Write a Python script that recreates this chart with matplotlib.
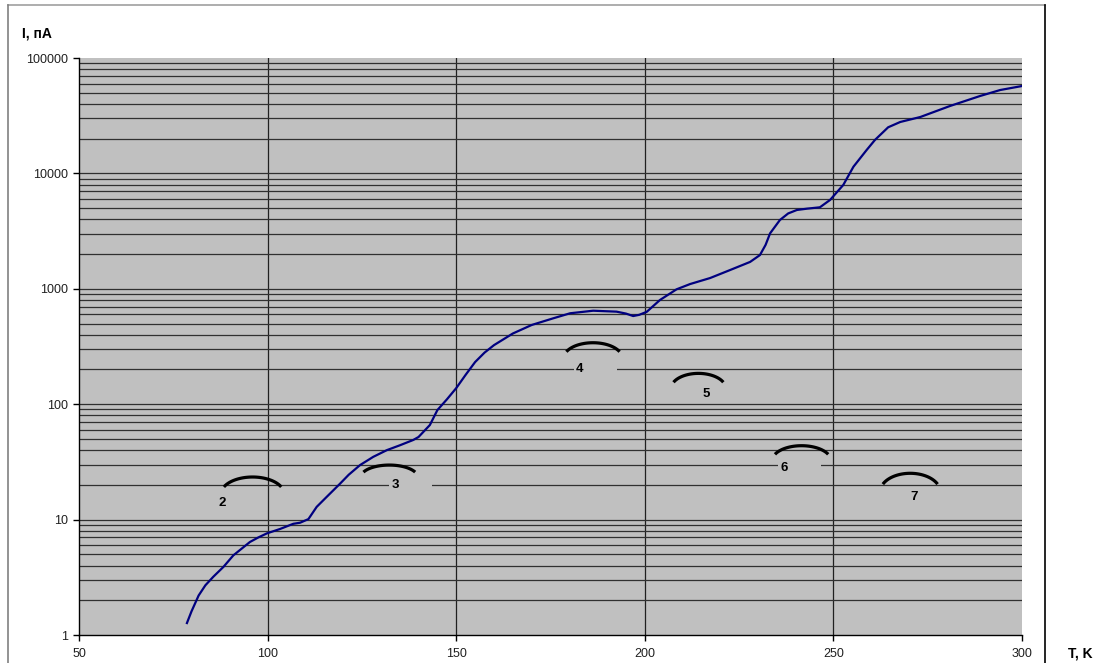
import numpy as np
import matplotlib
matplotlib.use('Agg')
import matplotlib.pyplot as plt
from matplotlib import ticker
from matplotlib.patches import Rectangle
from matplotlib.lines import Line2D

plt.rcParams['font.family'] = ['Liberation Sans', 'DejaVu Sans']

# температура (K) и ток (пА)
temp_k = [78.6, 79.8, 81.7, 83.5, 85.6, 88.3, 90.9, 93.1, 95.3, 97.5, 99.8,
          103.3, 106.8, 108.6, 110.8, 113.0, 115.7, 119.2, 121.5, 124.5,
          128.0, 131.6, 135.0, 138.6, 140.0, 143.0, 145.0, 147.5, 150.0,
          152.5, 155.0, 157.5, 160.0, 165.0, 170.0, 175.7, 180.2, 186.3,
          192.5, 195.0, 196.9, 198.5, 200.5, 204.0, 208.4, 212.0, 217.3,
          222.6, 227.9, 230.5, 232.0, 233.2, 235.8, 238.0, 240.3, 243.0,
          246.4, 249.1, 252.6, 255.3, 258.8, 261.0, 264.5, 267.7, 273.0,
          280.9, 288.9, 294.2, 300.0]
current_pa = [1.27, 1.6, 2.2, 2.7, 3.2, 3.9, 4.9, 5.6, 6.4, 7.0, 7.6,
              8.3, 9.2, 9.4, 10.1, 12.9, 15.8, 20.5, 24.5, 29.7,
              35.0, 40.0, 44.0, 49.0, 52.0, 66.0, 89.0, 110.0, 138.0,
              180.0, 232.0, 280.0, 325.0, 410.0, 486.0, 555.0, 614.0, 646.0,
              634.0, 610.0, 581.0, 595.0, 632.0, 800.0, 990.0, 1100.0, 1240.0,
              1455.0, 1710.0, 1960.0, 2400.0, 3025.0, 3945.0, 4500.0, 4820.0, 4950.0,
              5085.0, 5890.0, 7940.0, 11430.0, 15960.0, 19500.0, 25100.0, 27900.0, 30800.0,
              38400.0, 46900.0, 52800.0, 57200.0]

# дуги: левый и правый край (K), ток на концах и в вершине (пА)
arc_left = [88.4, 125.4, 179.2, 207.6, 234.5, 263.1]
arc_right = [103.6, 139.1, 193.3, 220.8, 248.6, 277.6]
arc_end = [19.2, 25.8, 285.0, 155.0, 36.8, 20.3]
arc_peak = [23.4, 29.7, 341.0, 185.0, 43.7, 25.2]

# подписи дуг
label_text = ['2', '3', '4', '5', '6', '7']
label_t = [87.9, 133.8, 182.8, 216.4, 236.9, 271.4]
label_i = [13.9, 20.0, 200.0, 122.0, 28.2, 15.8]

bg = '#c0c0c0'
fig = plt.figure(figsize=(11.01, 6.63), dpi=100)
ax = fig.add_axes([0.0718, 0.0422, 0.8565, 0.8703])
ax.set_facecolor(bg)

ax.plot(temp_k, current_pa, color='#000080', lw=1.6, zorder=3)

# дуги рисуем как эллиптические сегменты
th = np.linspace(np.radians(25), np.radians(155), 60)
for xl, xr, ye, yp in zip(arc_left, arc_right, arc_end, arc_peak):
    xc = (xl + xr) / 2
    a = (xr - xl) / 2 / np.cos(np.radians(25))
    s = np.sin(th)
    s0 = np.sin(np.radians(25))
    k = (s - s0) / (1 - s0)
    ly = np.log10(ye) + (np.log10(yp) - np.log10(ye)) * k
    ax.plot(xc + a * np.cos(th), 10 ** ly, color='black', lw=2.3,
            solid_capstyle='butt', zorder=4)

# подписи с серым фоном (закрывают линии сетки)
for txt, t, i in zip(label_text, label_t, label_i):
    ax.add_patch(Rectangle((t - 1.5, i / 1.2), 11.3, i * 1.2 - i / 1.2,
                           facecolor=bg, edgecolor='none', zorder=2))
    ax.text(t, i, txt, ha='center', va='center', fontsize=9.5,
            fontweight='bold', zorder=5)

ax.set_xlim(50, 300)
ax.set_yscale('log')
ax.set_ylim(1, 100000)
ax.xaxis.set_major_locator(ticker.MultipleLocator(50))
ax.yaxis.set_major_locator(ticker.LogLocator(base=10))
ax.yaxis.set_minor_locator(ticker.LogLocator(base=10, subs=np.arange(2, 10)))
ax.yaxis.set_major_formatter(ticker.FuncFormatter(lambda v, p: f'{v:g}'))
ax.yaxis.set_minor_formatter(ticker.NullFormatter())

# сетка только внутри области (без линий по краям)
xmin, xmax = ax.get_xlim()
ymin, ymax = ax.get_ylim()
for xv in ax.get_xticks():
    if xmin < xv < xmax:
        ax.axvline(xv, color='#202020', lw=0.9, zorder=0.5)
yall = list(ax.yaxis.get_majorticklocs()) + list(ax.yaxis.get_minorticklocs())
for yv in yall:
    if ymin * 1.01 < yv < ymax * 0.99:
        ax.axhline(yv, color='#303030', lw=0.9, zorder=0.5)

ax.tick_params(axis='both', which='major', direction='out', length=4,
               width=1, labelsize=9, colors='black', labelcolor='#202020')
ax.tick_params(axis='y', which='minor', length=0)
ax.tick_params(axis='x', pad=5)
ax.tick_params(axis='y', pad=4)
for side in ['top', 'right']:
    ax.spines[side].set_visible(False)
for side in ['left', 'bottom']:
    ax.spines[side].set_color('black')
    ax.spines[side].set_linewidth(1)

fig.text(22 / 1101, 1 - 33 / 663, 'I, пA', fontsize=10, fontweight='bold',
         ha='left', va='center')
fig.text(1068 / 1101, 1 - 654 / 663, 'T, K', fontsize=10, fontweight='bold',
         ha='left', va='center')

# рамка вокруг диаграммы
fig.add_artist(Line2D([8 / 1101, 1045 / 1101], [1 - 5 / 663, 1 - 5 / 663],
                      transform=fig.transFigure, color='#a0a0a0', lw=1.2))
fig.add_artist(Line2D([8 / 1101, 8 / 1101], [0, 1 - 5 / 663],
                      transform=fig.transFigure, color='#808080', lw=1.2))
fig.add_artist(Line2D([1045 / 1101, 1045 / 1101], [0, 1 - 5 / 663],
                      transform=fig.transFigure, color='black', lw=1.2))

fig.savefig('out.png', dpi=100)
